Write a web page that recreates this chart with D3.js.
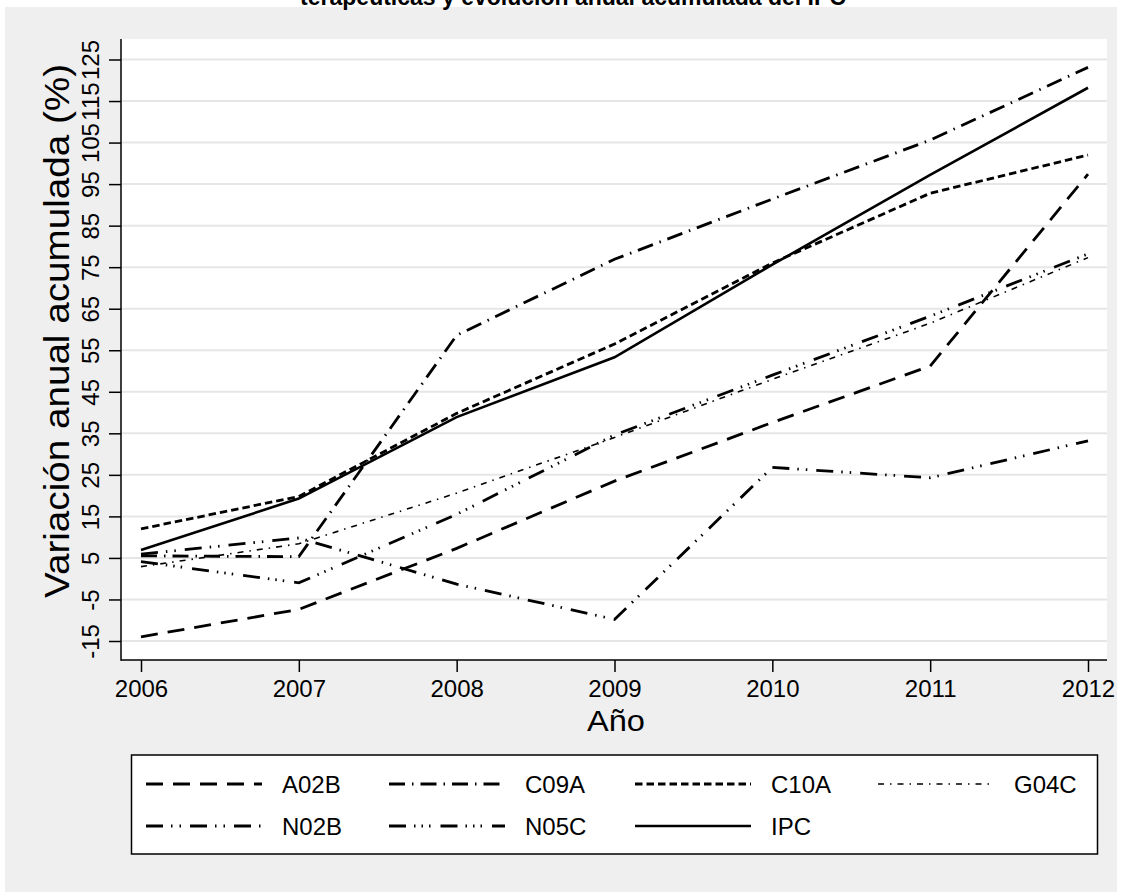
<!DOCTYPE html>
<html>
<head>
<meta charset="utf-8">
<script src="https://cdn.jsdelivr.net/npm/d3@7"></script>
<style>
  html, body { margin: 0; padding: 0; background: #ffffff; }
  svg { display: block; }
  text { font-family: "Liberation Sans", Arial, Helvetica, sans-serif; fill: #000; }
</style>
</head>
<body>
<svg id="chart" width="1123" height="892"></svg>
<script>
// Years on the horizontal axis
const years = [2006, 2007, 2008, 2009, 2010, 2011, 2012];

// Accumulated annual variation (%) per therapeutic group and CPI
const A02B = [-14.0, -7.4, 7.3, 23.5, 37.6, 51.2, 97.4];
const C09A = [5.5, 5.3, 58.6, 76.9, 91.4, 105.6, 123.1];
const C10A = [12.0, 19.8, 39.8, 56.5, 76.0, 92.8, 102.0];
const G04C = [2.9, 8.4, 20.6, 34.0, 48.0, 61.5, 77.3];
const N02B = [5.9, 9.8, -1.3, -9.8, 26.8, 24.3, 33.2];
const N05C = [4.1, -1.0, 15.5, 34.6, 49.0, 63.2, 78.2];
const IPC  = [6.9, 19.3, 38.9, 53.3, 75.6, 97.2, 118.2];

const seriesNames = ["A02B", "C09A", "C10A", "G04C", "N02B", "N05C", "IPC"];
const yTicks = [-15, -5, 5, 15, 25, 35, 45, 55, 65, 75, 85, 95, 105, 115, 125];

const titleText = "terapéuticas y evolución anual acumulada del IPC";
const yTitle = "Variación anual acumulada (%)";
const xTitle = "Año";

// Line styles for each series
const styles = {
  A02B: { dash: "17,10", width: 2.8 },
  C09A: { dash: "16,7,1.5,7", width: 2.8 },
  C10A: { dash: "7.5,4", width: 2.8 },
  G04C: { dash: "6,6,1.5,6", width: 1.6 },
  N02B: { dash: "17,8,1.5,7,1.5,9", width: 2.8 },
  N05C: { dash: "17,8,1.5,6,1.5,6,1.5,10", width: 2.8 },
  IPC:  { dash: null, width: 2.6 }
};

const data = { A02B, C09A, C10A, G04C, N02B, N05C, IPC };

const svg = d3.select("#chart");

// Outer grey graph region
svg.append("rect").attr("x", 5).attr("y", 7).attr("width", 1112).attr("height", 885)
  .attr("fill", "#efefef");

// Title (its first line lies above the page)
svg.append("text").attr("x", 573).attr("y", 5).attr("text-anchor", "middle")
  .attr("font-size", 23).attr("font-weight", "bold").text(titleText);

// Plot region
const plot = { left: 121, right: 1107, top: 39, bottom: 660 };
svg.append("rect").attr("x", plot.left).attr("y", plot.top)
  .attr("width", plot.right - plot.left).attr("height", plot.bottom - plot.top)
  .attr("fill", "#ffffff");

const x = d3.scaleLinear().domain([2006, 2012]).range([141, 1088]);
const y = d3.scaleLinear().domain([-15, 125]).range([641, 59.5]);

// Horizontal grid lines
svg.append("g").selectAll("line").data(yTicks).join("line")
  .attr("x1", plot.left).attr("x2", plot.right)
  .attr("y1", d => y(d)).attr("y2", d => y(d))
  .attr("stroke", "#e6e6e6").attr("stroke-width", 2);

// Y axis
const yAxis = svg.append("g").attr("transform", `translate(${plot.left},0)`)
  .call(d3.axisLeft(y).tickValues(yTicks).tickSize(12).tickSizeOuter(0).tickFormat(d => String(d)));
yAxis.select(".domain").remove();
yAxis.selectAll(".tick line").attr("stroke", "#000").attr("stroke-width", 1.5);
yAxis.selectAll(".tick text")
  .attr("font-size", 24).attr("font-family", "Liberation Sans, Arial, sans-serif")
  .attr("text-anchor", "middle").attr("dy", null).attr("x", null)
  .attr("transform", "translate(-22,0) rotate(-90)");

// X axis
const xAxis = svg.append("g").attr("transform", `translate(0,${plot.bottom})`)
  .call(d3.axisBottom(x).tickValues(years).tickSize(12).tickSizeOuter(0).tickFormat(d => String(d)));
xAxis.select(".domain").remove();
xAxis.selectAll(".tick line").attr("stroke", "#000").attr("stroke-width", 1.5);
xAxis.selectAll(".tick text")
  .attr("font-size", 24).attr("font-family", "Liberation Sans, Arial, sans-serif")
  .attr("y", 37).attr("dy", null);

// Axis lines
svg.append("line").attr("x1", plot.left).attr("x2", plot.left)
  .attr("y1", plot.top).attr("y2", plot.bottom + 0.75).attr("stroke", "#000").attr("stroke-width", 1.5);
svg.append("line").attr("x1", plot.left).attr("x2", plot.right)
  .attr("y1", plot.bottom).attr("y2", plot.bottom).attr("stroke", "#000").attr("stroke-width", 1.5);

// Axis titles
svg.append("text").attr("transform", "translate(69,331) rotate(-90)")
  .attr("text-anchor", "middle").attr("font-size", 35)
  .attr("textLength", 534).attr("lengthAdjust", "spacingAndGlyphs").text(yTitle);
svg.append("text").attr("x", 616).attr("y", 731).attr("text-anchor", "middle")
  .attr("font-size", 29).attr("textLength", 58).attr("lengthAdjust", "spacingAndGlyphs").text(xTitle);

// Series lines
const line = d3.line().x((d, i) => x(years[i])).y(d => y(d));
svg.append("g").selectAll("path").data(seriesNames).join("path")
  .attr("d", n => line(data[n]))
  .attr("fill", "none").attr("stroke", "#000")
  .attr("stroke-width", n => styles[n].width)
  .attr("stroke-dasharray", n => styles[n].dash)
  .attr("stroke-linejoin", "miter");

// Legend
const legend = svg.append("g");
legend.append("rect").attr("x", 131.5).attr("y", 755).attr("width", 966).attr("height", 99)
  .attr("fill", "#ffffff").attr("stroke", "#000").attr("stroke-width", 1.5);
const colX = [146, 389, 635, 878];
const rowY = [784, 826];
const items = legend.selectAll("g.item").data(seriesNames).join("g").attr("class", "item")
  .attr("transform", (n, i) => `translate(${colX[i % 4]},${rowY[Math.floor(i / 4)]})`);
items.append("line").attr("x1", 0).attr("x2", 116).attr("y1", 0).attr("y2", 0)
  .attr("stroke", "#000")
  .attr("stroke-width", n => styles[n].width)
  .attr("stroke-dasharray", n => styles[n].dash);
items.append("text").attr("x", 136).attr("y", 8.5).attr("font-size", 24).text(n => n);
</script>
</body>
</html>
